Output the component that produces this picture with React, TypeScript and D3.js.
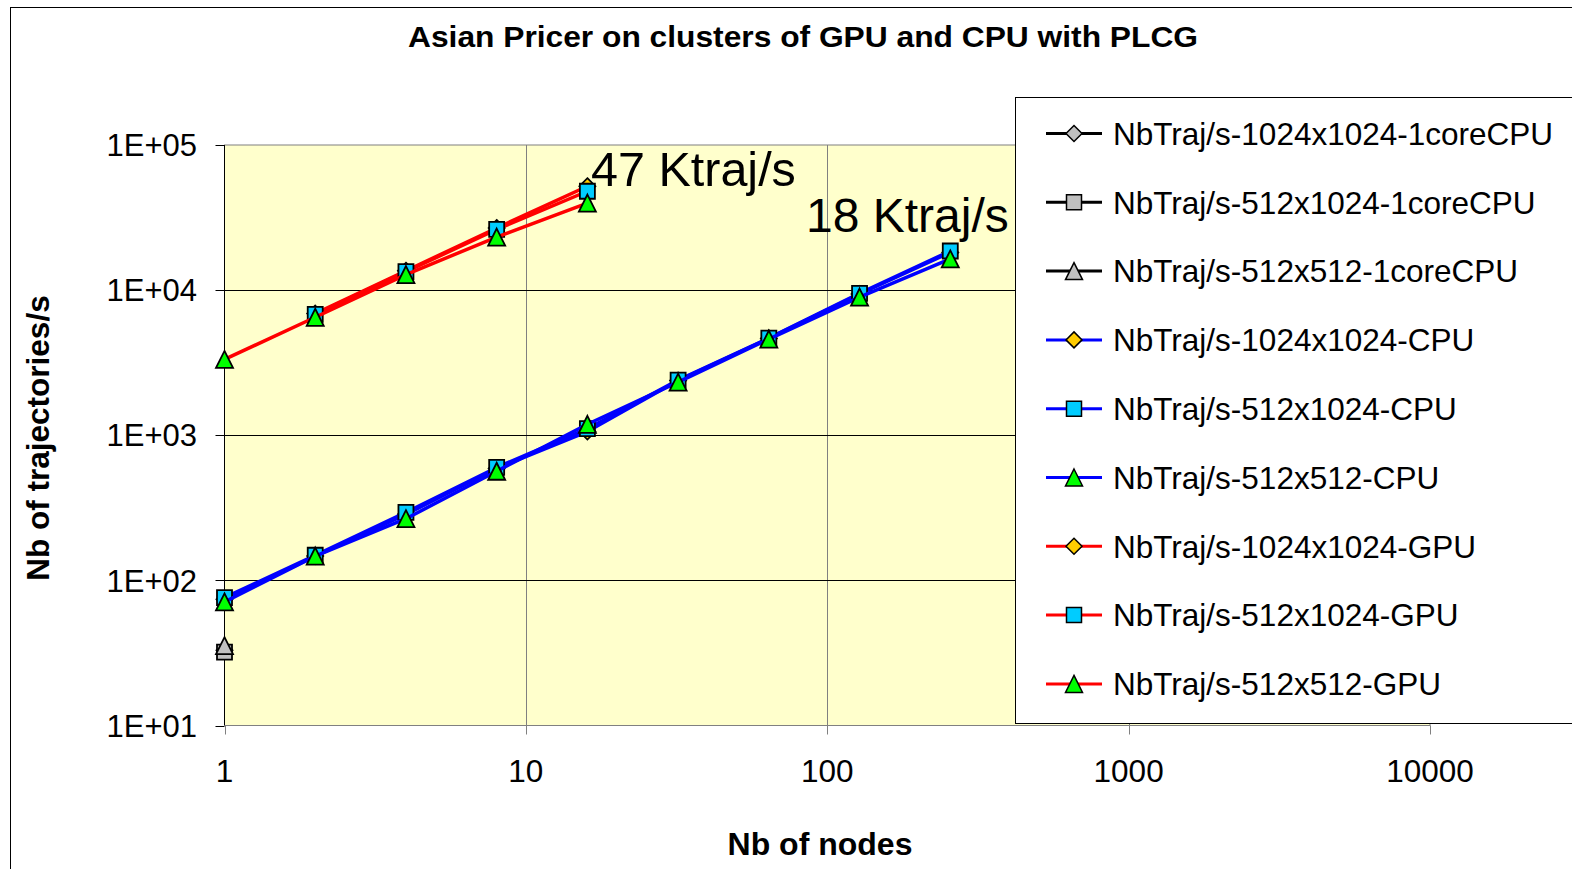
import React from "react";
import * as d3 from "d3";

const nodesGPU_1024x1024 = [2, 4, 8, 16];
const gpu_1024x1024 = [6900, 13600, 26800, 52000];
const nodesGPU_512x1024 = [2, 4, 8, 16];
const gpu_512x1024 = [6800, 13400, 26200, 48000];
const nodesGPU_512x512 = [1, 2, 4, 8, 16];
const gpu_512x512 = [3330, 6500, 12800, 23200, 39800];

const nodesCPU = [1, 2, 4, 8, 16, 32, 64, 128, 256];
const cpu_1024x1024 = [74, 147, 285, 590, 1060, 2380, 4650, 9400, 18200];
const cpu_512x1024 = [76, 149, 294, 600, 1110, 2400, 4670, 9500, 18600];
const cpu_512x512 = [71, 147, 266, 565, 1190, 2320, 4600, 8950, 16400];

const nodes1core = [1];
const core_1024x1024 = [33];
const core_512x1024 = [32];
const core_512x512 = [35.5];

const xTicks = [1, 10, 100, 1000, 10000];
const xTickLabels = ["1", "10", "100", "1000", "10000"];
const yTicks = [10, 100, 1000, 10000, 100000];
const yTickLabels = ["1E+01", "1E+02", "1E+03", "1E+04", "1E+05"];

const seriesNames = [
  "NbTraj/s-1024x1024-1coreCPU",
  "NbTraj/s-512x1024-1coreCPU",
  "NbTraj/s-512x512-1coreCPU",
  "NbTraj/s-1024x1024-CPU",
  "NbTraj/s-512x1024-CPU",
  "NbTraj/s-512x512-CPU",
  "NbTraj/s-1024x1024-GPU",
  "NbTraj/s-512x1024-GPU",
  "NbTraj/s-512x512-GPU",
];

type Shape = "diamond" | "square" | "triangle";
interface Series {
  name: string;
  xs: number[];
  ys: number[];
  line: string;
  fill: string;
  shape: Shape;
}

const series: Series[] = [
  { name: seriesNames[0], xs: nodes1core, ys: core_1024x1024, line: "#000000", fill: "#C0C0C0", shape: "diamond" },
  { name: seriesNames[1], xs: nodes1core, ys: core_512x1024, line: "#000000", fill: "#C0C0C0", shape: "square" },
  { name: seriesNames[2], xs: nodes1core, ys: core_512x512, line: "#000000", fill: "#C0C0C0", shape: "triangle" },
  { name: seriesNames[3], xs: nodesCPU, ys: cpu_1024x1024, line: "#0000FF", fill: "#FFCC00", shape: "diamond" },
  { name: seriesNames[4], xs: nodesCPU, ys: cpu_512x1024, line: "#0000FF", fill: "#00CCFF", shape: "square" },
  { name: seriesNames[5], xs: nodesCPU, ys: cpu_512x512, line: "#0000FF", fill: "#00FF00", shape: "triangle" },
  { name: seriesNames[6], xs: nodesGPU_1024x1024, ys: gpu_1024x1024, line: "#FF0000", fill: "#FFCC00", shape: "diamond" },
  { name: seriesNames[7], xs: nodesGPU_512x1024, ys: gpu_512x1024, line: "#FF0000", fill: "#00CCFF", shape: "square" },
  { name: seriesNames[8], xs: nodesGPU_512x512, ys: gpu_512x512, line: "#FF0000", fill: "#00FF00", shape: "triangle" },
];

function markerPath(shape: Shape, cx: number, cy: number): string {
  const p = d3.path();
  if (shape === "square") {
    const h = 7.5;
    p.rect(cx - h, cy - h, 2 * h, 2 * h);
  } else if (shape === "diamond") {
    const h = 8;
    p.moveTo(cx, cy - h);
    p.lineTo(cx + h, cy);
    p.lineTo(cx, cy + h);
    p.lineTo(cx - h, cy);
    p.closePath();
  } else {
    const w = 8.5;
    const h = 8.5;
    p.moveTo(cx, cy - h);
    p.lineTo(cx + w, cy + h);
    p.lineTo(cx - w, cy + h);
    p.closePath();
  }
  return p.toString();
}

const FONT = "'Liberation Sans', Arial, sans-serif";

export default function App() {
  const W = 1572;
  const H = 869;
  const left = 224.5;
  const right = 1430;
  const top = 145;
  const bottom = 725.5;

  const x = d3.scaleLog().domain([1, 10000]).range([left, right]);
  const y = d3.scaleLog().domain([10, 100000]).range([bottom, top]);

  const lineGen = d3
    .line<[number, number]>()
    .x((d) => x(d[0]))
    .y((d) => y(d[1]));

  const legX = 1015.5;
  const legY = 97.5;
  const legRow0 = 133.5;
  const legStep = 68.8;

  return (
    <svg
      width={W}
      height={H}
      style={{ position: "absolute", left: 0, top: 0, display: "block" }}
      fontFamily={FONT}
    >
      <rect x={0} y={0} width={W} height={H} fill="#ffffff" />
      {/* chart area border */}
      <rect x={10.5} y={7.5} width={W + 20} height={H + 20} fill="#ffffff" stroke="#000000" strokeWidth={1} />

      {/* title */}
      <text x={803} y={47} textAnchor="middle" fontSize={29} fontWeight="bold" fill="#000" textLength={790} lengthAdjust="spacingAndGlyphs">
        Asian Pricer on clusters of GPU and CPU with PLCG
      </text>

      {/* plot area */}
      <rect x={left} y={top} width={right - left} height={bottom - top} fill="#FFFFCC" stroke="#808080" strokeWidth={1} />

      {/* vertical gridlines */}
      {xTicks.slice(1, -1).map((t) => (
        <line key={"vg" + t} x1={Math.round(x(t)) + 0.5} x2={Math.round(x(t)) + 0.5} y1={top} y2={bottom} stroke="#808080" strokeWidth={1} />
      ))}
      {/* horizontal gridlines */}
      {yTicks.slice(1, -1).map((t) => (
        <line key={"hg" + t} x1={left} x2={right} y1={Math.round(y(t)) + 0.5} y2={Math.round(y(t)) + 0.5} stroke="#000000" strokeWidth={1} />
      ))}

      {/* axes */}
      <line x1={left} x2={left} y1={top} y2={bottom} stroke="#000" strokeWidth={1} />
      <line x1={left} x2={right} y1={bottom} y2={bottom} stroke="#808080" strokeWidth={1} />
      {yTicks.map((t, i) => (
        <g key={"yt" + t}>
          <line x1={left - 9} x2={left} y1={Math.round(y(t)) + 0.5} y2={Math.round(y(t)) + 0.5} stroke="#000" />
          <text x={197} y={y(t)} dy="0.36em" textAnchor="end" fontSize={31} fill="#000">
            {yTickLabels[i]}
          </text>
        </g>
      ))}
      {xTicks.map((t, i) => (
        <g key={"xt" + t}>
          <line x1={Math.round(x(t)) + 0.5} x2={Math.round(x(t)) + 0.5} y1={bottom} y2={bottom + 9} stroke="#808080" />
          <text x={x(t)} y={782} textAnchor="middle" fontSize={31.5} fill="#000">
            {xTickLabels[i]}
          </text>
        </g>
      ))}

      {/* axis titles */}
      <text x={820} y={855} textAnchor="middle" fontSize={32} fontWeight="bold" fill="#000">
        Nb of nodes
      </text>
      <text
        transform={`translate(49,438) rotate(-90)`}
        textAnchor="middle"
        fontSize={31.5}
        fontWeight="bold"
        fill="#000"
      >
        Nb of trajectories/s
      </text>

      {/* series */}
      {series.map((s) => {
        const pts: [number, number][] = s.xs.map((v, i) => [v, s.ys[i]]);
        return (
          <g key={s.name}>
            {pts.length > 1 && (
              <path d={lineGen(pts) || ""} fill="none" stroke={s.line} strokeWidth={3.5} strokeLinejoin="round" />
            )}
            {pts.map((p, i) => (
              <path key={i} d={markerPath(s.shape, x(p[0]), y(p[1]))} fill={s.fill} stroke="#000" strokeWidth={1.8} strokeLinejoin="miter" />
            ))}
          </g>
        );
      })}

      {/* annotations */}
      <text x={591} y={186} fontSize={48.5} fill="#000">47 Ktraj/s</text>
      <text x={806} y={232} fontSize={48} fill="#000">18 Ktraj/s</text>

      {/* legend */}
      <rect x={legX} y={legY} width={W} height={626} fill="#ffffff" stroke="#000" strokeWidth={1} />
      {series.map((s, i) => {
        const cy = legRow0 + i * legStep;
        return (
          <g key={"lg" + s.name}>
            <line x1={1046} x2={1102} y1={cy} y2={cy} stroke={s.line} strokeWidth={3} />
            <path d={markerPath(s.shape, 1074, cy)} fill={s.fill} stroke="#000" strokeWidth={1.5} />
            <text x={1113} y={cy} dy="0.36em" fontSize={31.5} fill="#000">
              {s.name}
            </text>
          </g>
        );
      })}
    </svg>
  );
}
